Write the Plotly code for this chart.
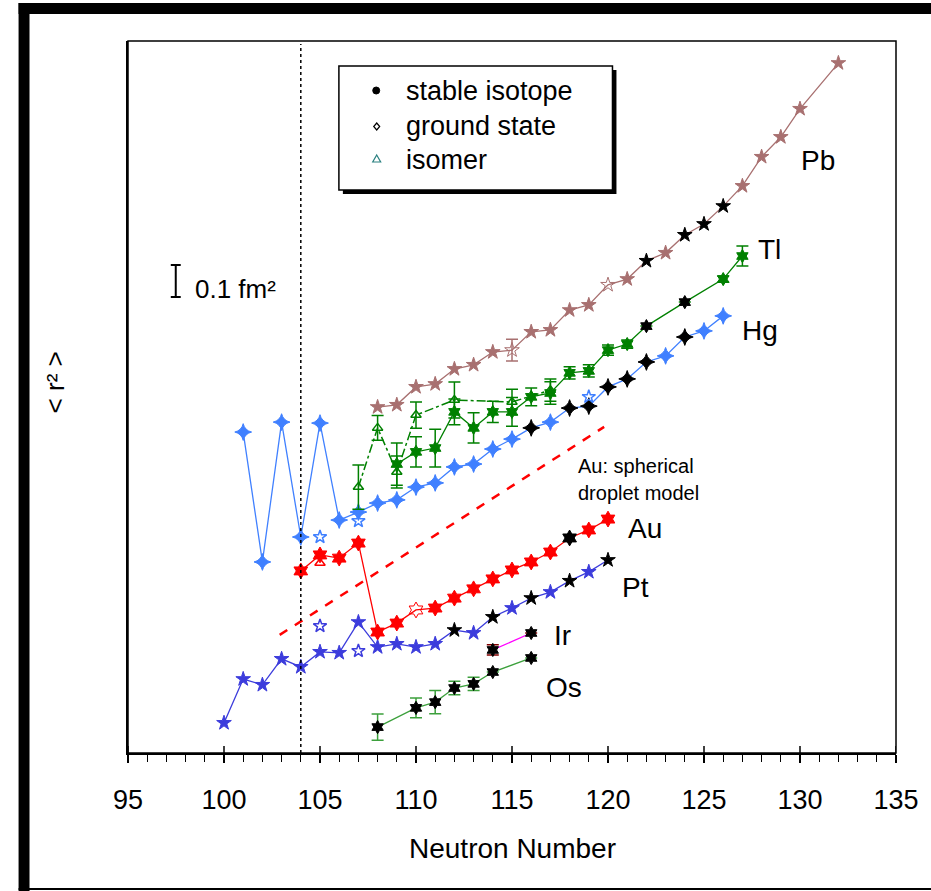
import plotly.graph_objects as go

# ---------------- data (relative <r^2>, arbitrary offset, fm^2) ----------------
pb_n = [108,109,110,111,112,113,114,115,116,117,118,119,120,121,122,123,124,125,126,127,128,129,130,132]
pb_r = [1.081,1.088,1.144,1.153,1.200,1.213,1.253,1.259,1.316,1.322,1.384,1.400,1.463,1.481,1.538,1.563,1.619,1.653,1.709,1.772,1.863,1.925,2.013,2.156]
pb_stable = [122,124,125,126]
pb_open = [115,120]
pb_err_n = [115]
pb_err = [0.034]

tl_n = [109,110,111,112,113,114,115,116,117,118,119,120,121,122,124,126,127]
tl_r = [0.903,0.941,0.953,1.066,1.016,1.066,1.066,1.113,1.125,1.188,1.194,1.259,1.278,1.334,1.409,1.481,1.553]
tl_e = [0.066,0.047,0.059,0.040,0.047,0.033,0.045,0.028,0.035,0.019,0.019,0.016,0.013,0.0,0.0,0.010,0.031]
tl_stable = [122,124]
tl_iso_n = [107,108,109,110,112,115,117]
tl_iso_r = [0.831,1.016,0.878,1.056,1.103,1.097,1.134]
tl_iso_e = [0.069,0.039,0.050,0.041,0.056,0.040,0.035]

hg_n = [101,102,103,104,105,106,107,108,109,110,111,112,113,114,115,116,117,118,119,120,121,122,123,124,125,126]
hg_r = [1.003,0.597,1.034,0.675,1.031,0.728,0.753,0.781,0.791,0.831,0.844,0.894,0.903,0.950,0.981,1.016,1.034,1.078,1.084,1.144,1.169,1.222,1.241,1.300,1.319,1.366]
hg_stable = [116,118,119,120,121,122,124]
hg_iso_n = [105,107,119]
hg_iso_r = [0.675,0.725,1.113]

au_n = [104,105,106,107,108,109,110,111,112,113,114,115,116,117,118,119,120]
au_r = [0.569,0.619,0.609,0.656,0.378,0.406,0.447,0.453,0.484,0.513,0.544,0.572,0.597,0.628,0.672,0.697,0.731]
au_stable = [118]
au_open = [110]
au_iso_n = [105]
au_iso_r = [0.594]

droplet_n = [102.9, 119.8]
droplet_r = [0.369, 1.019]

pt_n = [100,101,102,103,104,105,106,107,108,109,110,111,112,113,114,115,116,117,118,119,120]
pt_r = [0.094,0.231,0.213,0.294,0.269,0.316,0.313,0.409,0.331,0.341,0.331,0.341,0.384,0.375,0.425,0.453,0.484,0.503,0.538,0.566,0.603]
pt_stable = [112,114,116,118,120]
pt_iso_n = [105,107]
pt_iso_r = [0.397,0.319]

ir_n = [114,116]
ir_r = [0.322,0.375]
ir_e = [0.016,0.0]

os_n = [108,110,111,112,113,114,116]
os_r = [0.081,0.141,0.159,0.203,0.216,0.253,0.297]
os_e = [0.041,0.031,0.036,0.021,0.021,0.0,0.0]

x_ticks = [95,100,105,110,115,120,125,130,135]

# ---------------- layout geometry (pixels) ----------------
W, H = 931, 891
L, R, T, B = 128, 900, 41, 753
Y_MAX = (B - T) / 320.0

def px(xp):
    return (xp - L) / (R - L)

def py(yp):
    return (B - yp) / (B - T)

FONT = "Liberation Sans, Arial, sans-serif"

fig = go.Figure()

def series(n, r, color, symbol, size=11, stable=(), opened=(), err=None,
           dash="solid", lw=1.3, err_color=None):
    cols = ["black" if v in stable else color for v in n]
    syms = [symbol + "-open" if v in opened else symbol for v in n]
    kw = {}
    if err is not None:
        kw["error_y"] = dict(type="data", array=err, visible=True,
                             color=err_color or color, thickness=1.5, width=6)
    fig.add_trace(go.Scatter(
        x=n, y=r, mode="lines+markers",
        line=dict(color=color, width=lw, dash=dash),
        marker=dict(color=cols, symbol=syms, size=size,
                    line=dict(color=cols, width=1)),
        showlegend=False, hoverinfo="skip", **kw))

def points(n, r, color, symbol, size=10, err=None):
    kw = {}
    if err is not None:
        kw["error_y"] = dict(type="data", array=err, visible=True,
                             color=color, thickness=1.5, width=6)
    fig.add_trace(go.Scatter(
        x=n, y=r, mode="markers",
        marker=dict(color=color, symbol=symbol, size=size, line=dict(width=1.5, color=color)),
        showlegend=False, hoverinfo="skip", **kw))

C_PB = "#a87070"
C_TL = "#008000"
C_HG = "#4080ff"
C_AU = "#ff0000"
C_PT = "#3c3cdc"
C_IR = "#ff00ff"
C_OS = "#3ca03c"

# droplet model
fig.add_trace(go.Scatter(x=droplet_n, y=droplet_r, mode="lines",
                         line=dict(color=C_AU, width=2.5, dash="dash"),
                         showlegend=False, hoverinfo="skip"))

# Os
series(os_n, os_r, C_OS, "hexagram", size=10, stable=os_n, err=os_e)
# Ir
series(ir_n, ir_r, C_IR, "hexagram", size=10, stable=ir_n, err=ir_e, err_color="#800000")
# Pt
series(pt_n, pt_r, C_PT, "star", size=11, stable=pt_stable)
points(pt_iso_n, pt_iso_r, C_PT, "star-open", size=10)
# Au
series(au_n, au_r, C_AU, "hexagram", size=12, stable=au_stable, opened=au_open)
points(au_iso_n, au_iso_r, C_AU, "triangle-up-open", size=9)
# Hg
series(hg_n, hg_r, C_HG, "star-diamond", size=12, stable=hg_stable)
points(hg_iso_n, hg_iso_r, C_HG, "star-open", size=10)
# Tl
fig.add_trace(go.Scatter(
    x=tl_iso_n, y=tl_iso_r, mode="lines+markers",
    line=dict(color=C_TL, width=1.5, dash="dashdot"),
    marker=dict(color=C_TL, symbol="triangle-up-open", size=9, line=dict(width=1.5, color=C_TL)),
    error_y=dict(type="data", array=tl_iso_e, visible=True, color=C_TL, thickness=1.5, width=6),
    showlegend=False, hoverinfo="skip"))
series(tl_n, tl_r, C_TL, "hexagram", size=10, stable=tl_stable, err=tl_e)
# Pb
series(pb_n, pb_r, C_PB, "star", size=11, stable=pb_stable, opened=pb_open)
fig.add_trace(go.Scatter(x=pb_err_n, y=[pb_r[pb_n.index(v)] for v in pb_err_n],
                         mode="markers", marker=dict(size=1, color=C_PB),
                         error_y=dict(type="data", array=pb_err, visible=True,
                                      color=C_PB, thickness=1.5, width=6),
                         showlegend=False, hoverinfo="skip"))

shapes = []
# outer frame
shapes.append(dict(type="rect", xref="paper", yref="paper", x0=px(18), x1=px(29),
                   y0=py(H + 5), y1=py(3), fillcolor="black", line=dict(width=0)))
shapes.append(dict(type="rect", xref="paper", yref="paper", x0=px(18), x1=px(W + 5),
                   y0=py(14), y1=py(3), fillcolor="black", line=dict(width=0)))
shapes.append(dict(type="line", xref="paper", yref="paper", x0=px(18), x1=px(W + 5),
                   y0=py(889), y1=py(889), line=dict(color="black", width=2)))
# plot box
shapes.append(dict(type="rect", xref="paper", yref="paper", x0=0, x1=1, y0=0, y1=1,
                   line=dict(color="black", width=1.5)))
# N = 104 dotted line
shapes.append(dict(type="line", xref="x", yref="paper", x0=104, x1=104, y0=0, y1=py(44),
                   line=dict(color="black", width=1.5, dash="dot")))
# scale bar 0.1 fm^2
sb_x = px(176)
sb_y0 = (B - 297) / 320.0
shapes.append(dict(type="line", xref="paper", yref="y", x0=sb_x, x1=sb_x,
                   y0=sb_y0, y1=sb_y0 + 0.1, line=dict(color="black", width=2)))
for yy in [sb_y0, sb_y0 + 0.1]:
    shapes.append(dict(type="line", xref="paper", yref="y", x0=px(171), x1=px(181),
                       y0=yy, y1=yy, line=dict(color="black", width=2)))
# legend box with shadow
shapes.append(dict(type="rect", xref="paper", yref="paper", x0=px(344), x1=px(619),
                   y0=py(194), y1=py(70), fillcolor="black", line=dict(width=0)))
shapes.append(dict(type="rect", xref="paper", yref="paper", x0=px(340), x1=px(615),
                   y0=py(190), y1=py(66), fillcolor="white", line=dict(color="black", width=1.5)))
# legend symbols
shapes.append(dict(type="circle", xref="paper", yref="paper", x0=px(374), x1=px(381),
                   y0=py(94), y1=py(87), fillcolor="black", line=dict(color="black", width=1)))
shapes.append(dict(type="path", xref="paper", yref="paper",
                   path="M {a},{b} L {c},{d} L {a},{e} L {f},{d} Z".format(
                       a=px(378), b=py(123), c=px(381), d=py(126.5), e=py(130), f=px(375)),
                   line=dict(color="black", width=1.2)))
shapes.append(dict(type="path", xref="paper", yref="paper",
                   path="M {a},{b} L {c},{d} L {f},{d} Z".format(
                       a=px(378), b=py(155), c=px(382), d=py(162), f=px(374)),
                   line=dict(color="#2a8080", width=1.2)))
# inside (upper) part of major ticks
for t in x_ticks:
    shapes.append(dict(type="line", xref="x", yref="paper", x0=t, x1=t, y0=0, y1=py(B - 7),
                       line=dict(color="black", width=1.5)))

ann = []
def label(text, xp, yp, size=28, anchor="center", color="black"):
    ann.append(dict(text=text, xref="paper", yref="paper", x=px(xp), y=py(yp),
                    xanchor=anchor, yanchor="middle", showarrow=False,
                    font=dict(family=FONT, size=size, color=color)))

label("Pb", 822, 160)
label("Tl", 773, 250)
label("Hg", 763, 330)
label("Au", 648, 528)
label("Pt", 638, 587)
label("Ir", 565, 635)
label("Os", 566, 687)
label("Au: spherical", 578, 466, size=20, anchor="left")
label("droplet model", 578, 493, size=20, anchor="left")
label("0.1 fm²", 193, 289, size=26, anchor="left")
label("< r² >", 55, 382, size=26)
ann[-1]["textangle"] = -90
label("stable isotope", 405, 91, size=27, anchor="left")
label("ground state", 405, 126, size=27, anchor="left")
label("isomer", 405, 160, size=27, anchor="left")
label("Neutron Number", 514, 848, size=28)

fig.update_layout(
    width=W, height=H,
    margin=dict(l=L, r=W - R, t=T, b=H - B),
    paper_bgcolor="white", plot_bgcolor="white",
    font=dict(family=FONT, color="black"),
    xaxis=dict(range=[95, 135], tickvals=x_ticks, ticks="outside", ticklen=8,
               tickwidth=1.5, tickcolor="black", showline=True, linecolor="black",
               linewidth=1.5, showgrid=False, zeroline=False, ticklabelstandoff=14,
               tickfont=dict(family=FONT, size=27),
               minor=dict(dtick=1, ticks="outside", ticklen=7, tickwidth=1.2,
                          tickcolor="black", showgrid=False)),
    yaxis=dict(range=[0, Y_MAX], showticklabels=False, ticks="", showgrid=False,
               zeroline=False, showline=True, linecolor="black", linewidth=2),
    shapes=shapes, annotations=ann,
)
fig.write_html("out.html")
